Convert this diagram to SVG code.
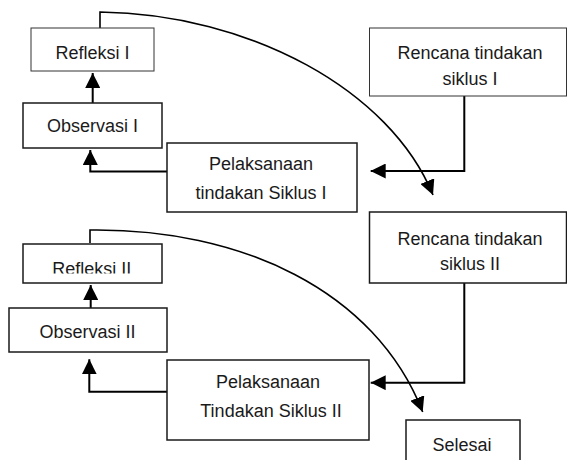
<svg xmlns="http://www.w3.org/2000/svg" width="567" height="460" viewBox="0 0 567 460">
<style>
.box{fill:#fff;stroke:#1a1a1a;stroke-width:1.5}
.thin{fill:#fff;stroke:#333;stroke-width:1}
.lbl{font-family:"Liberation Sans",Arial,sans-serif;font-size:18px;fill:#1a1a1a;text-anchor:middle}
.conn{fill:none;stroke:#000;stroke-width:2}
.curve{fill:none;stroke:#000;stroke-width:1.6}
</style>
<defs>
<marker id="ah" markerUnits="userSpaceOnUse" markerWidth="15" markerHeight="15" refX="15" refY="7.5" orient="auto">
<path d="M0,0 L15,7.5 L0,15 z" fill="#000"/>
</marker>
<clipPath id="clipR2"><rect x="23" y="244" width="139" height="29.5"/></clipPath>
</defs>
<rect width="567" height="460" fill="#fff"/>
<g id="connectors">
<path class="conn" d="M92.7,103 V73" marker-end="url(#ah)"/>
<path class="conn" d="M167,171.5 H90.3 V150" marker-end="url(#ah)"/>
<path class="conn" d="M464.3,96 V171 H370.7" marker-end="url(#ah)"/>
<path class="curve" d="M100,28 V12 C250,14 390,90 433,195" marker-end="url(#ah)"/>
<path class="conn" d="M90.7,308 V285" marker-end="url(#ah)"/>
<path class="conn" d="M167,391.7 H89.3 V359.3" marker-end="url(#ah)"/>
<path class="conn" d="M464.3,283 V382.7 H370.7" marker-end="url(#ah)"/>
<path class="curve" d="M90,243 V230 C240,228 375,290 422.7,412" marker-end="url(#ah)"/>
</g>
<g id="refleksi1">
<rect class="thin" x="31" y="28" width="123" height="43"/>
<text class="lbl" x="92.5" y="59">Refleksi I</text>
</g>
<g id="observasi1">
<rect class="box" x="23" y="103" width="139" height="45"/>
<text class="lbl" x="92.5" y="132">Observasi I</text>
</g>
<g id="pelaksanaan1">
<rect class="box" x="167" y="143" width="190" height="69"/>
<text class="lbl" x="261" y="170">Pelaksanaan</text>
<text class="lbl" x="261" y="199">tindakan Siklus I</text>
</g>
<g id="rencana1">
<rect class="thin" x="369.5" y="28" width="197" height="68"/>
<text class="lbl" x="470" y="59">Rencana tindakan</text>
<text class="lbl" x="470" y="85">siklus I</text>
</g>
<g id="rencana2">
<rect class="box" x="369.5" y="212" width="197" height="71"/>
<text class="lbl" x="470" y="245">Rencana tindakan</text>
<text class="lbl" x="470" y="270">siklus II</text>
</g>
<g id="refleksi2">
<rect class="box" x="23" y="244" width="139" height="39"/>
<text class="lbl" x="91.7" y="275" clip-path="url(#clipR2)">Refleksi II</text>
</g>
<g id="observasi2">
<rect class="box" x="9" y="308" width="158" height="44"/>
<text class="lbl" x="87.5" y="338">Observasi II</text>
</g>
<g id="pelaksanaan2">
<rect class="box" x="167" y="360" width="202" height="80"/>
<text class="lbl" x="268" y="388">Pelaksanaan</text>
<text class="lbl" x="271" y="417">Tindakan Siklus II</text>
</g>
<g id="selesai">
<rect class="box" x="406" y="420" width="114" height="50"/>
<text class="lbl" x="462" y="451">Selesai</text>
</g>
</svg>
